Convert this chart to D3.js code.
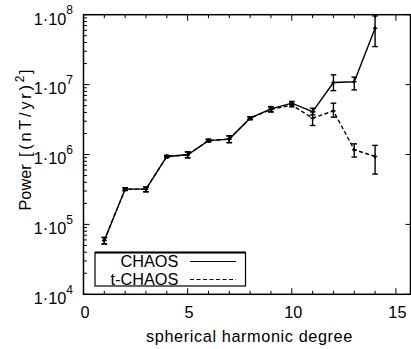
<!DOCTYPE html>
<html>
<head>
<meta charset="utf-8">
<script src="https://cdn.jsdelivr.net/npm/d3@7"></script>
<style>
html,body{margin:0;padding:0;background:#fff;}
svg{display:block;font-family:"Liberation Sans",Arial,Helvetica,sans-serif;}
</style>
</head>
<body>
<svg id="chart" width="411" height="349"></svg>
<script>
// ---- data ----
const degrees = [1,2,3,4,5,6,7,8,9,10,11,12,13,14];
const chaosValue = [5.9e4,3.2e5,3.2e5,9.37e5,9.9e5,1.58e6,1.66e6,3.31e6,4.5e6,5.42e6,4.11e6,1.07e7,1.1e7,6.4e7];
const chaosLow   = [5.25e4,3.06e5,2.93e5,9.06e5,8.97e5,1.52e6,1.48e6,3.16e6,4.11e6,5.13e6,3.69e6,8.2e6,8.4e6,3.5e7];
const chaosHigh  = [6.5e4,3.35e5,3.42e5,9.68e5,1.09e6,1.65e6,1.85e6,3.46e6,4.85e6,5.75e6,4.6e6,1.38e7,1.28e7,9.6e7];
const tchaosValue = [5.9e4,3.2e5,3.2e5,9.37e5,9.9e5,1.58e6,1.66e6,3.31e6,4.4e6,5.1e6,3.31e6,4.2e6,1.17e6,9.37e5];
const tchaosLow   = [5.25e4,3.06e5,2.93e5,9.06e5,8.97e5,1.52e6,1.48e6,3.16e6,4.05e6,4.8e6,2.6e6,3.42e6,9.2e5,5.25e5];
const tchaosHigh  = [6.5e4,3.35e5,3.42e5,9.68e5,1.09e6,1.65e6,1.85e6,3.46e6,4.75e6,5.45e6,4.07e6,5.42e6,1.42e6,1.35e6];
const xTickValues = [0,5,10,15];
const yTickValues = [1e4,1e5,1e6,1e7,1e8];
const yTickExponents = ["4","5","6","7","8"];
const seriesNames = ["CHAOS","t-CHAOS"];

// ---- layout ----
const svg = d3.select("#chart");
const L = 83.5, R = 410.5, T = 14.7, B = 294.3;
const x = d3.scaleLinear().domain([0, 15.7]).range([L, R]);
const y = d3.scaleLog().domain([1e4, 1e8]).range([B, T]);
const FONT = 16.3;

// minor ticks
const g = svg.append("g").attr("stroke","#000").attr("stroke-width",1);
const xMinor = d3.range(0, 16);
xMinor.forEach(v => {
  const major = xTickValues.includes(v);
  const len = major ? 6 : 3.5;
  g.append("line").attr("x1",x(v)).attr("x2",x(v)).attr("y1",B).attr("y2",B-len);
  g.append("line").attr("x1",x(v)).attr("x2",x(v)).attr("y1",T).attr("y2",T+len);
});
const yMinor = [];
for (let e = 4; e < 8; e++) for (let m = 2; m <= 9; m++) yMinor.push(m * Math.pow(10, e));
yMinor.forEach(v => {
  g.append("line").attr("x1",L).attr("x2",L+3.5).attr("y1",y(v)).attr("y2",y(v));
});
yTickValues.forEach(v => {
  g.append("line").attr("x1",L).attr("x2",L+6).attr("y1",y(v)).attr("y2",y(v));
  g.append("line").attr("x1",R).attr("x2",R-5).attr("y1",y(v)).attr("y2",y(v));
});

// frame
svg.append("rect").attr("x",L).attr("y",T).attr("width",R-L).attr("height",B-T)
  .attr("fill","none").attr("stroke","#000").attr("stroke-width",1.5);

// axis labels
svg.append("g").selectAll("text").data(xTickValues).join("text")
  .attr("x", d => x(d) + 1.5).attr("y", 318.3)
  .attr("text-anchor","middle").attr("font-size",FONT).text(d => d);

const yl = svg.append("g").selectAll("text").data(yTickValues).join("text")
  .attr("x", 73).attr("y", d => y(d) + 9.8)
  .attr("text-anchor","end").attr("font-size",FONT);
yl.append("tspan").text("1·10");
yl.append("tspan").attr("font-size",12).attr("dy",-10.5).text((d,i) => yTickExponents[i]);

svg.append("text").attr("x",249.5).attr("y",342)
  .attr("text-anchor","middle").attr("font-size",FONT)
  .attr("letter-spacing",0.6)
  .text("spherical harmonic degree");

const ylab = svg.append("text")
  .attr("transform","translate(30.5,140) rotate(-90)")
  .attr("text-anchor","middle").attr("font-size",FONT);
ylab.append("tspan").text("Power");
ylab.append("tspan").attr("letter-spacing",2.8).text(" [(nT/yr)");
ylab.append("tspan").attr("font-size",12).attr("dy",-7).text("2");
ylab.append("tspan").attr("dy",7).attr("dx",1.5).text("]");

// series
function drawSeries(vals, lows, highs, dash) {
  const pts = degrees.map((d,i) => ({d, v: vals[i], lo: lows[i], hi: highs[i]}));
  const line = d3.line().x(p => x(p.d)).y(p => y(p.v));
  svg.append("path").datum(pts).attr("d", line)
    .attr("fill","none").attr("stroke","#000").attr("stroke-width",1.4)
    .attr("stroke-dasharray", dash || null);
  const eb = svg.append("g").attr("stroke","#000").attr("stroke-width",1.4);
  pts.forEach(p => {
    const cx = x(p.d);
    eb.append("line").attr("x1",cx).attr("x2",cx).attr("y1",y(p.lo)).attr("y2",y(p.hi));
    eb.append("line").attr("x1",cx-2.8).attr("x2",cx+2.8).attr("y1",y(p.lo)).attr("y2",y(p.lo));
    eb.append("line").attr("x1",cx-2.8).attr("x2",cx+2.8).attr("y1",y(p.hi)).attr("y2",y(p.hi));
    eb.append("line").attr("x1",cx-2.2).attr("x2",cx+2.2).attr("y1",y(p.v)).attr("y2",y(p.v));
    eb.append("line").attr("x1",cx).attr("x2",cx).attr("y1",y(p.v)-2.2).attr("y2",y(p.v)+2.2);
  });
}
drawSeries(tchaosValue, tchaosLow, tchaosHigh, "4,2.5");
drawSeries(chaosValue, chaosLow, chaosHigh, null);

// legend
const lg = svg.append("g");
lg.append("rect").attr("x",95).attr("y",252.5).attr("width",150.5).attr("height",33.5)
  .attr("fill","#fff").attr("stroke","#000").attr("stroke-width",1.2);
lg.append("line").attr("x1",95).attr("x2",245.5).attr("y1",252.5).attr("y2",252.5)
  .attr("stroke","#000").attr("stroke-width",2);
const legY = [261.5, 279.5];
seriesNames.forEach((name, i) => {
  lg.append("text").attr("x",178.3).attr("y",legY[i]+5.5)
    .attr("text-anchor","end").attr("font-size",FONT).text(name);
  lg.append("line").attr("x1",190).attr("x2",236).attr("y1",legY[i]).attr("y2",legY[i])
    .attr("stroke","#000").attr("stroke-width",1.2)
    .attr("stroke-dasharray", i === 1 ? "4,2.5" : null);
});
</script>
</body>
</html>
